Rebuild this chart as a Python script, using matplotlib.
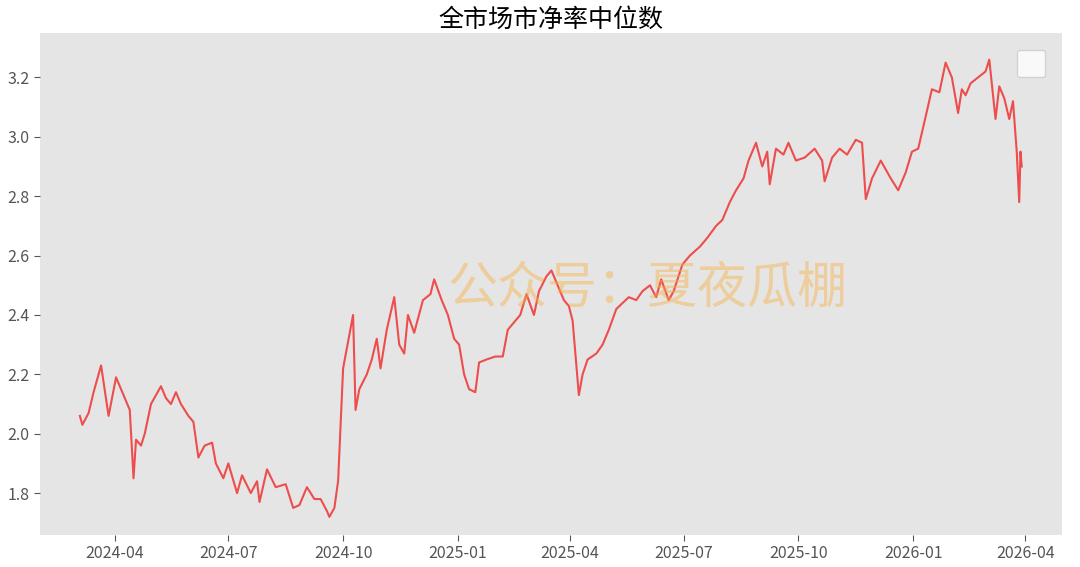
import pandas as pd
import matplotlib
matplotlib.use("Agg")
import matplotlib.pyplot as plt
import matplotlib.dates as mdates

plt.rcParams['font.family'] = ['Noto Sans CJK SC', 'DejaVu Sans']

# Values
dates = [
    "2024-03-04", "2024-03-06", "2024-03-11", "2024-03-15", "2024-03-21", "2024-03-27",
    "2024-04-02", "2024-04-11", "2024-04-13", "2024-04-16", "2024-04-18", "2024-04-22",
    "2024-04-25", "2024-04-30", "2024-05-08", "2024-05-12", "2024-05-16", "2024-05-20",
    "2024-05-24", "2024-05-30", "2024-06-03", "2024-06-07", "2024-06-12", "2024-06-18",
    "2024-06-21", "2024-06-27", "2024-07-01", "2024-07-08", "2024-07-12", "2024-07-19",
    "2024-07-24", "2024-07-26", "2024-08-01", "2024-08-08", "2024-08-16", "2024-08-22",
    "2024-08-27", "2024-09-02", "2024-09-08", "2024-09-13", "2024-09-18", "2024-09-20",
    "2024-09-24", "2024-09-27", "2024-10-01", "2024-10-09", "2024-10-11", "2024-10-14",
    "2024-10-20", "2024-10-24", "2024-10-28", "2024-10-31", "2024-11-05", "2024-11-11",
    "2024-11-15", "2024-11-19", "2024-11-22", "2024-11-27", "2024-12-04", "2024-12-10",
    "2024-12-13", "2024-12-19", "2024-12-24", "2024-12-29", "2025-01-02", "2025-01-06",
    "2025-01-10", "2025-01-15", "2025-01-18", "2025-01-24", "2025-01-31", "2025-02-06",
    "2025-02-10", "2025-02-16", "2025-02-20", "2025-02-25", "2025-03-03", "2025-03-07",
    "2025-03-13", "2025-03-17", "2025-03-23", "2025-03-27", "2025-03-31", "2025-04-03",
    "2025-04-08", "2025-04-11", "2025-04-15", "2025-04-22", "2025-04-27", "2025-05-02",
    "2025-05-08", "2025-05-13", "2025-05-18", "2025-05-24", "2025-05-29", "2025-06-04",
    "2025-06-09", "2025-06-13", "2025-06-19", "2025-06-23", "2025-06-30", "2025-07-06",
    "2025-07-14", "2025-07-20", "2025-07-27", "2025-08-01", "2025-08-07", "2025-08-12",
    "2025-08-18", "2025-08-22", "2025-08-28", "2025-09-02", "2025-09-06", "2025-09-08",
    "2025-09-13", "2025-09-19", "2025-09-23", "2025-09-29", "2025-10-06", "2025-10-14",
    "2025-10-20", "2025-10-22", "2025-10-28", "2025-11-03", "2025-11-09", "2025-11-16",
    "2025-11-21", "2025-11-24", "2025-11-29", "2025-12-06", "2025-12-14", "2025-12-20",
    "2025-12-26", "2025-12-31", "2026-01-05", "2026-01-10", "2026-01-16", "2026-01-22",
    "2026-01-27", "2026-02-01", "2026-02-06", "2026-02-09", "2026-02-12", "2026-02-16",
    "2026-02-22", "2026-02-28", "2026-03-03", "2026-03-08", "2026-03-11", "2026-03-15",
    "2026-03-19", "2026-03-22", "2026-03-25", "2026-03-27", "2026-03-28", "2026-03-29",
]
values = [
    2.06, 2.03, 2.07, 2.14, 2.23, 2.06,
    2.19, 2.10, 2.08, 1.85, 1.98, 1.96,
    2.00, 2.10, 2.16, 2.12, 2.10, 2.14,
    2.10, 2.06, 2.04, 1.92, 1.96, 1.97,
    1.90, 1.85, 1.90, 1.80, 1.86, 1.80,
    1.84, 1.77, 1.88, 1.82, 1.83, 1.75,
    1.76, 1.82, 1.78, 1.78, 1.74, 1.72,
    1.75, 1.84, 2.22, 2.40, 2.08, 2.15,
    2.20, 2.25, 2.32, 2.22, 2.35, 2.46,
    2.30, 2.27, 2.40, 2.34, 2.45, 2.47,
    2.52, 2.45, 2.40, 2.32, 2.30, 2.20,
    2.15, 2.14, 2.24, 2.25, 2.26, 2.26,
    2.35, 2.38, 2.40, 2.47, 2.40, 2.48,
    2.53, 2.55, 2.49, 2.45, 2.43, 2.38,
    2.13, 2.20, 2.25, 2.27, 2.30, 2.35,
    2.42, 2.44, 2.46, 2.45, 2.48, 2.50,
    2.46, 2.52, 2.45, 2.48, 2.57, 2.60,
    2.63, 2.66, 2.70, 2.72, 2.78, 2.82,
    2.86, 2.92, 2.98, 2.90, 2.95, 2.84,
    2.96, 2.94, 2.98, 2.92, 2.93, 2.96,
    2.92, 2.85, 2.93, 2.96, 2.94, 2.99,
    2.98, 2.79, 2.86, 2.92, 2.86, 2.82,
    2.88, 2.95, 2.96, 3.05, 3.16, 3.15,
    3.25, 3.20, 3.08, 3.16, 3.14, 3.18,
    3.20, 3.22, 3.26, 3.06, 3.17, 3.13,
    3.06, 3.12, 2.95, 2.78, 2.95, 2.90,
]

series = pd.Series(values, index=pd.to_datetime(dates))

fig, ax = plt.subplots(figsize=(10.8, 5.67), dpi=100)
fig.subplots_adjust(left=0.037, right=0.983, top=0.942, bottom=0.057)
ax.set_facecolor('#e5e5e5')
ax.plot(series.index, series.values, color='#f03c3c', linewidth=1.5, alpha=0.9)
ax.set_title('全市场市净率中位数', fontsize=18, pad=4)

ax.xaxis.set_major_locator(mdates.MonthLocator(bymonth=[1, 4, 7, 10]))
ax.xaxis.set_major_formatter(mdates.DateFormatter('%Y-%m'))
ax.set_xlim(pd.Timestamp('2024-02-01'), pd.Timestamp('2026-04-30'))
ax.set_ylim(1.66, 3.35)
ax.set_yticks([1.8, 2.0, 2.2, 2.4, 2.6, 2.8, 3.0, 3.2])
ax.tick_params(colors='#555555', labelsize=11.5, length=4)
for s in ax.spines.values():
    s.set_visible(False)

# empty legend box as in the original
ax.legend(handles=[], loc='upper right', frameon=True, borderpad=1.0,
          borderaxespad=1.2, fancybox=True)

ax.text(0.595, 0.49, '公众号：夏夜瓜棚', transform=ax.transAxes, fontsize=36,
        color='#f5b041', alpha=0.45, ha='center', va='center')

fig.savefig('out.png')
